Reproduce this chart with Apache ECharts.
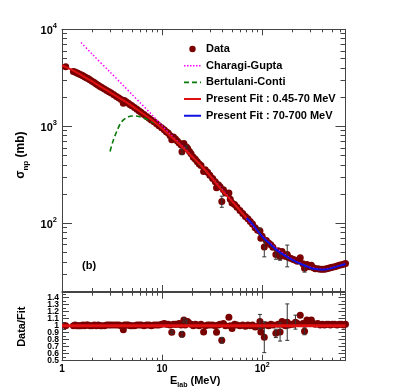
<!DOCTYPE html>
<html><head><meta charset="utf-8">
<script src="https://cdn.jsdelivr.net/npm/echarts@6/dist/echarts.min.js"></script>
<style>html,body{margin:0;padding:0;background:#fff}#c{width:407px;height:390px}</style>
</head><body><div id="c"></div>
<script>
// ---- data ----
const dataE = [1.09,1.30,1.35,1.40,1.45,1.50,1.56,1.62,1.68,1.75,
  1.82,1.90,2.00,2.10,2.20,2.30,2.40,2.50,2.65,2.80,
  2.95,3.10,3.30,3.50,3.70,3.90,4.10,4.20,4.40,4.60,
  4.80,5.00,5.30,5.60,5.90,6.20,6.60,7.00,7.40,7.80,
  8.30,8.80,9.30,9.90,10.5,11.0,11.5,12.0,12.5,13.0,
  13.6,14.2,14.8,15.5,15.8,16.5,17.0,17.5,18.0,18.8,
  19.5,20.5,21.5,22.5,23.5,24.5,26.0,27.0,28.5,30.0,
  32.0,34.0,35.0,36.5,38.0,39.5,41.0,43.0,46.5,48.0,
  50.0,53.0,56.0,60.0,64.0,68.0,72.0,76.0,80.0,85.0,
  90.0,95.0,97.0,100,105,110,116,122,128,137,
  144,151,158,165,172,178,185,195,205,215,
  225,240,255,265,280,295,310,325,340,360,
  380,400,420,440,460,480,500,530,560,590,
  620,650,680];
const dataSigma = [4110,3680,3620,3560,3500,3440,3380,3310,3240,3170,
  3100,3010,2910,2820,2730,2650,2570,2510,2420,2340,
  2270,2200,2110,2030,1960,1890,1730,1840,1780,1725,
  1670,1625,1560,1500,1440,1390,1320,1260,1210,1160,
  1110,1060,1010,965,920,880,850,805,725,775,
  740,705,672,640,545,665,600,612,590,548,
  522,478,458,430,408,395,342,355,335,313,
  290,268,232,250,238,168,222,205,205,177,
  162,156,146,135,126,117,111,104,98,90,
  84.5,83,70,73.5,57,66.5,62.5,60,56.5,47.5,
  52,45.5,51,47,45.5,47.5,44,43.2,42.3,41.6,
  40.6,44,38.2,34.3,37.5,35.6,36.8,34.8,34,34,
  33.5,33.6,33.6,33.9,34.3,34.7,35.1,35.6,36.3,36.8,
  37.3,37.8,38.4];
const ratioVal = [1.00,1.00,1.01,1.00,1.00,1.00,1.00,1.01,1.00,1.01,
  1.01,1.00,1.00,1.01,1.00,1.01,1.00,1.00,1.00,1.01,
  1.01,1.01,1.01,1.01,1.01,1.00,0.94,1.01,1.01,1.01,
  1.00,1.00,1.00,1.01,1.01,1.01,1.00,1.01,1.01,1.00,
  1.01,1.01,1.01,1.02,1.03,1.02,1.02,1.01,0.905,1.02,
  1.02,1.02,1.03,1.01,0.876,1.08,1.01,1.05,1.06,1.03,
  1.02,1.00,1.02,1.01,1.00,1.02,0.91,1.00,1.01,1.01,
  1.01,1.00,0.905,1.01,1.02,0.79,1.03,1.00,1.12,1.00,
  0.96,1.02,1.01,1.00,1.01,0.99,1.01,1.00,1.01,0.98,
  0.99,1.06,0.91,1.00,0.835,1.01,1.00,1.02,1.01,0.89,
  1.02,0.91,1.06,1.01,1.00,1.05,1.01,1.02,1.02,1.05,
  1.03,1.15,1.03,0.92,1.08,1.03,1.08,1.03,1.02,1.03,
  1.01,1.02,1.01,1.02,1.02,1.01,1.02,1.02,1.01,1.02,
  1.02,1.01,1.02];
const errE = [15.8,17.5,39.5,95,105,137,151,178,265];
const errS = [545,612,168,83,57,47.5,45.5,47.5,34.3];
const errV = [35,15,22,6,12,5,4,12,3];
const rErrE = [12.5,15.8,16.5,17.5,39.5,95,105,137,151,178,215,265];
const rErrR = [0.905,0.876,1.08,1.05,0.79,1.06,0.835,0.89,0.91,1.05,1.05,0.92];
const rErrV = [0.02,0.04,0.03,0.03,0.04,0.1,0.22,0.06,0.13,0.26,0.1,0.05];
const fitLowE = [1,1.2,1.5,2,2.5,3,4,5,6,8,10,12,15,20,25,30,40,50,60,70];
const fitLowS = [4250,3900,3450,2900,2520,2250,1880,1620,1420,1150,950,800,650,485,385,310,215,168,135,113];
const fitHighE = [70,80,100,120,150,200,250,300,350,400,450,500,600,680];
const fitHighS = [113,98,73,61,50,42,37.5,34.8,33.5,33.2,33.5,34.5,36.5,38];
const cgE = [1.55,2,3,4,5,6,8,10,12,15,20,30,50,100,200,400,680];
const cgS = [7300,5550,3650,2700,2130,1760,1300,1010,830,665,490,312,170,74,42.5,33.5,38.3];
const bcE = [3.02,3.2,3.4,3.6,3.8,4.0,4.3,4.6,5,5.5,6,6.5,7,7.6,8.5,10,12,15,20,30,50,70];
const bcS = [550,680,810,930,1050,1130,1205,1250,1275,1275,1255,1220,1180,1130,1075,945,798,648,483,309,167,112];
const unityE = [1,680];
const unityR = [1,1];
const xMajor = [1,10,100];
const xMinor = [2,3,4,5,6,7,8,9,20,30,40,50,60,70,80,90,200,300,400,500,600];
const yMajor = [100,1000,10000];
const yMinor = [20,30,40,50,60,70,80,90,200,300,400,500,600,700,800,900,2000,3000,4000,5000,6000,7000,8000,9000];
const rMajor = [0.5,0.6,0.7,0.8,0.9,1,1.1,1.2,1.3,1.4];
const rLabelsA = [0.5,0.7,0.9,1.1,1.3];
const rLabelsB = [0.6,0.8,1.2,1.4];
const rLabelUnit = 1;
const rMinor = [0.55,0.65,0.75,0.85,0.95,1.05,1.15,1.25,1.35,1.45];

// ---- chart ----
const FONT = "'Liberation Sans', Arial, sans-serif";
const AX = '#444';
const zip = (a,b) => a.map((v,i)=>[v,b[i]]);
const zip3 = (a,b,c) => a.map((v,i)=>[v,b[i],c[i]]);

function ax(o){
  return Object.assign({
    splitLine:{show:false}, axisLabel:{show:false},
    axisTick:{show:false}, axisLine:{show:false, onZero:false}, silent:true
  }, o);
}
function ticks(vals,len){ return {show:true, inside:true, length:len, customValues:vals, lineStyle:{color:AX, width:1}}; }
const line = {show:true, onZero:false, lineStyle:{color:AX, width:1}};
const LOGX = {type:'log', logBase:10, min:1, max:680};
const LOGY = {type:'log', logBase:10, min:20, max:10000};
const RY = {type:'value', min:0.5, max:1.47};
const rLab = vals => ({show:true, margin:3, customValues:vals, hideOverlap:false, showMinLabel:true, showMaxLabel:true,
  formatter: v => String(Math.round(v * 10) / 10),
  fontSize:8.5, fontWeight:'bold', fontFamily:FONT, color:'#000'});

const xAxes = [
  ax(Object.assign({gridIndex:0, position:'bottom', axisLine:line, axisTick:ticks(xMajor,6)}, LOGX)),
  ax(Object.assign({gridIndex:0, position:'bottom', axisTick:ticks(xMinor,3)}, LOGX)),
  ax(Object.assign({gridIndex:0, position:'top', axisLine:line, axisTick:ticks(xMajor,6)}, LOGX)),
  ax(Object.assign({gridIndex:0, position:'top', axisTick:ticks(xMinor,3)}, LOGX)),
  ax(Object.assign({gridIndex:1, position:'bottom', axisLine:line, axisTick:ticks(xMajor,6),
    axisLabel:{show:true, margin:1, customValues:xMajor, hideOverlap:false,
      formatter: v => v >= 100 ? '{b|10}{s|' + Math.round(Math.log10(v)) + '}' : '{b|' + v + '}',
      rich:{b:{fontSize:10, fontWeight:'bold', fontFamily:FONT, color:'#000', verticalAlign:'top', padding:[3,0,0,0]},
            s:{fontSize:7, fontWeight:'bold', fontFamily:FONT, color:'#000', verticalAlign:'top'}}},
    name:'{g|E}{sub|lab}{g| (MeV)}', nameLocation:'middle', nameGap:12,
    nameTextStyle:{padding:[0,17,0,0], rich:{
      g:{fontSize:11, fontWeight:'bold', fontFamily:FONT, color:'#000', verticalAlign:'top'},
      sub:{fontSize:7, fontWeight:'bold', fontFamily:FONT, color:'#000', verticalAlign:'top', padding:[6,0,0,0]}}}
  }, LOGX)),
  ax(Object.assign({gridIndex:1, position:'bottom', axisTick:ticks(xMinor,3)}, LOGX)),
  ax(Object.assign({gridIndex:1, position:'top', axisLine:line, axisTick:ticks(xMajor,6)}, LOGX)),
  ax(Object.assign({gridIndex:1, position:'top', axisTick:ticks(xMinor,3)}, LOGX))
];
const yAxes = [
  ax(Object.assign({gridIndex:0, position:'left', axisLine:line, axisTick:ticks(yMajor,10),
    axisLabel:{show:true, margin:5, customValues:yMajor, hideOverlap:false,
      formatter: v => '{b|10}{s|' + Math.round(Math.log10(v)) + '}',
      rich:{b:{fontSize:11, fontWeight:'bold', fontFamily:FONT, color:'#000', verticalAlign:'top', padding:[3,0,0,0]},
            s:{fontSize:7.5, fontWeight:'bold', fontFamily:FONT, color:'#000', verticalAlign:'top'}}},
    name:'{g|σ}{sub|np}{g| (mb)}', nameLocation:'middle', nameGap:30, nameRotate:90,
    nameTextStyle:{padding:[0,0,0,10], rich:{
      g:{fontSize:12, fontWeight:'bold', fontFamily:FONT, color:'#000', verticalAlign:'top'},
      sub:{fontSize:8, fontWeight:'bold', fontFamily:FONT, color:'#000', verticalAlign:'top', padding:[7,0,0,0]}}}
  }, LOGY)),
  ax(Object.assign({gridIndex:0, position:'left', axisTick:ticks(yMinor,5)}, LOGY)),
  ax(Object.assign({gridIndex:0, position:'right', axisLine:line, axisTick:ticks(yMajor,10)}, LOGY)),
  ax(Object.assign({gridIndex:0, position:'right', axisTick:ticks(yMinor,5)}, LOGY)),
  ax(Object.assign({gridIndex:1, position:'left', axisLine:line, axisTick:ticks(rMajor,7),
    axisLabel:rLab(rLabelsA),
    name:'Data/Fit', nameLocation:'middle', nameGap:35, nameRotate:90,
    nameTextStyle:{fontSize:11, fontWeight:'bold', fontFamily:FONT, color:'#000'}
  }, RY)),
  ax(Object.assign({gridIndex:1, position:'left', axisTick:ticks(rMinor,4), axisLabel:rLab(rLabelsB)}, RY)),
  ax(Object.assign({gridIndex:1, position:'right', axisLine:line, axisTick:ticks(rMajor,7)}, RY)),
  ax(Object.assign({gridIndex:1, position:'right', axisTick:ticks(rMinor,4)}, RY))
];

function errBar(params, api){
  const x = api.value(0), y = api.value(1), e = api.value(2);
  const lo = api.coord([x, y - e]), hi = api.coord([x, y + e]);
  const st = {stroke:'#333', lineWidth:1};
  return {type:'group', children:[
    {type:'line', shape:{x1:lo[0], y1:lo[1], x2:hi[0], y2:hi[1]}, style:st},
    {type:'line', shape:{x1:lo[0]-2, y1:lo[1], x2:lo[0]+2, y2:lo[1]}, style:st},
    {type:'line', shape:{x1:hi[0]-2, y1:hi[1], x2:hi[0]+2, y2:hi[1]}, style:st}
  ]};
}

const BOX = 'M0,0L0.01,0M17,12L16.99,12';
const ICON_DOT = 'path://' + BOX + 'M5.3,6a3.2,3.2 0 1,0 6.4,0a3.2,3.2 0 1,0 -6.4,0Z';
const ICON_SOLID = 'path://' + BOX + 'M0,5H17V7H0Z';
const ICON_DASH = 'path://' + BOX + 'M0,5.2H5V6.8H0ZM8,5.2H13V6.8H8ZM16,5.2H17V6.8H16Z';
const ICON_DOTS = 'path://' + BOX + 'M0,5.2H1.5V6.8H0ZM3,5.2H4.5V6.8H3ZM6,5.2H7.5V6.8H6ZM9,5.2H10.5V6.8H9ZM12,5.2H13.5V6.8H12ZM15,5.2H16.5V6.8H15Z';

const DOT = '#7a0000';
const option = {
  animation:false,
  backgroundColor:'#fff',
  textStyle:{fontFamily:FONT},
  grid:[
    {left:62, right:61.5, top:29.3, height:261.7, outerBoundsMode:'none'},
    {left:62, right:61.5, top:292.7, height:68, outerBoundsMode:'none'}
  ],
  xAxis:xAxes, yAxis:yAxes,
  legend:{
    orient:'vertical', left:179, top:38, itemWidth:17, itemHeight:12, itemGap:4.7,
    selectedMode:false,
    textStyle:{fontSize:11, fontWeight:'bold', fontFamily:FONT, color:'#000'},
    data:[
      {name:'Data', icon:ICON_DOT},
      {name:'Charagi-Gupta', icon:ICON_DOTS},
      {name:'Bertulani-Conti', icon:ICON_DASH},
      {name:'Present Fit : 0.45-70 MeV', icon:ICON_SOLID},
      {name:'Present Fit : 70-700 MeV', icon:ICON_SOLID}
    ]
  },
  series:[
    {name:'Data', type:'scatter', xAxisIndex:0, yAxisIndex:0, symbol:'circle', symbolSize:7,
     itemStyle:{color:DOT, opacity:1}, data:zip(dataE, dataSigma), z:2},
    {name:'err', type:'custom', xAxisIndex:0, yAxisIndex:0, renderItem:errBar,
     data:zip3(errE, errS, errV), encode:{x:0, y:1}, z:3},
    {name:'Bertulani-Conti', type:'line', xAxisIndex:0, yAxisIndex:0, symbol:'none', smooth:0.3,
     lineStyle:{color:'#0a7a0a', width:1.6, type:[5,3]}, itemStyle:{color:'#0a7a0a'}, data:zip(bcE, bcS), z:3},
    {name:'Charagi-Gupta', type:'line', xAxisIndex:0, yAxisIndex:0, symbol:'none', smooth:0.3,
     lineStyle:{color:'#ff00ff', width:1.5, type:[1.5,2]}, itemStyle:{color:'#ff00ff'}, data:zip(cgE, cgS), z:4},
    {name:'Present Fit : 0.45-70 MeV', type:'line', xAxisIndex:0, yAxisIndex:0, symbol:'none', smooth:0.3,
     lineStyle:{color:'#e01010', width:2}, itemStyle:{color:'#e01010'}, data:zip(fitLowE, fitLowS), z:5},
    {name:'Present Fit : 70-700 MeV', type:'line', xAxisIndex:0, yAxisIndex:0, symbol:'none', smooth:0.3,
     lineStyle:{color:'#1010e0', width:2}, itemStyle:{color:'#1010e0'}, data:zip(fitHighE, fitHighS), z:5},
    {name:'ratio', type:'scatter', xAxisIndex:4, yAxisIndex:4, symbol:'circle', symbolSize:7,
     itemStyle:{color:DOT, opacity:1}, data:zip(dataE, ratioVal), z:2},
    {name:'ratioErr', type:'custom', xAxisIndex:4, yAxisIndex:4, renderItem:errBar,
     data:zip3(rErrE, rErrR, rErrV), encode:{x:0, y:1}, z:3},
    {name:'unity', type:'line', xAxisIndex:4, yAxisIndex:4, symbol:'none',
     lineStyle:{color:'#e01010', width:3}, data:zip(unityE, unityR), z:4}
  ]
};
const chart = echarts.init(document.getElementById('c'), null, {renderer:'canvas'});
chart.setOption(option);
// panel tag and the "1" ratio tick label, placed through the axes' own scales
const yOne = chart.convertToPixel({yAxisIndex:4}, rLabelUnit);
const yTag = chart.convertToPixel({yAxisIndex:0}, 36);
chart.setOption({graphic:[
  {type:'text', x:82, y:yTag, style:{text:'(b)', font:'bold 11px ' + FONT, fill:'#000', verticalAlign:'middle'}},
  {type:'text', x:59, y:yOne, style:{text:String(rLabelUnit), font:'bold 8.5px ' + FONT, fill:'#000', align:'right', verticalAlign:'middle'}}
]});
</script></body></html>
